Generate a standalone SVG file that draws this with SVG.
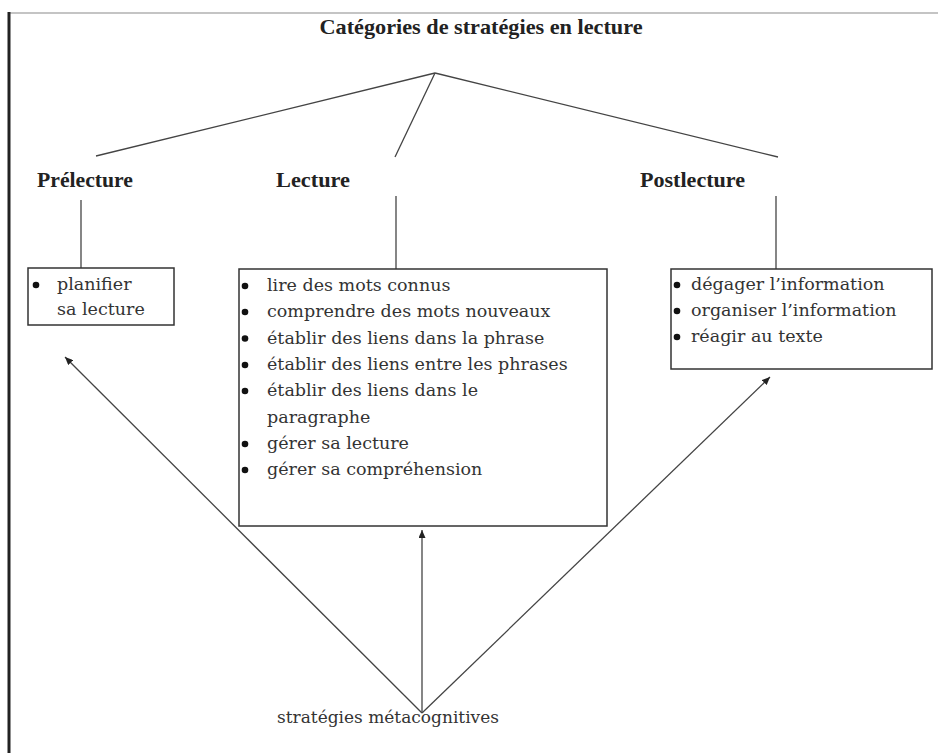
<svg xmlns="http://www.w3.org/2000/svg" width="938" height="753" viewBox="0 0 938 753">
<defs>
<style>
.bg{fill:#ffffff}
.frame-l{stroke:#222;stroke-width:3;fill:none}
.frame-t{stroke:#b0b0b0;stroke-width:1.5;fill:none}
.h{font-family:"Liberation Serif","Times New Roman",serif;font-weight:bold;font-size:21px;fill:#222}
.t{font-family:"DejaVu Serif","Liberation Serif",serif;font-size:17.5px;fill:#333}
.box{fill:#fff;stroke:#333;stroke-width:1.5}
.ln{stroke:#444;stroke-width:1.3;fill:none}
.dot{fill:#111}
</style>
<marker id="ah" viewBox="0 0 8 7" refX="8" refY="3.5" markerWidth="8" markerHeight="7" markerUnits="userSpaceOnUse" orient="auto">
<path d="M0,0 L8,3.5 L0,7 z" fill="#222"/>
</marker>
</defs>
<rect class="bg" x="0" y="0" width="938" height="753"/>
<line class="frame-t" x1="9" y1="13" x2="938" y2="13"/>
<line class="frame-l" x1="9" y1="12" x2="9" y2="753"/>

<g id="connectors">
<line class="ln" x1="435" y1="73" x2="96" y2="156"/>
<line class="ln" x1="435" y1="73" x2="395" y2="157"/>
<line class="ln" x1="435" y1="73" x2="778" y2="157"/>
<line class="ln" x1="81" y1="200" x2="81" y2="268"/>
<line class="ln" x1="396" y1="196" x2="396" y2="269"/>
<line class="ln" x1="776" y1="196" x2="776" y2="269"/>
<line class="ln" x1="422" y1="713" x2="65" y2="357" marker-end="url(#ah)"/>
<line class="ln" x1="422" y1="713" x2="422" y2="530" marker-end="url(#ah)"/>
<line class="ln" x1="422" y1="713" x2="770" y2="377" marker-end="url(#ah)"/>
</g>

<g id="title">
<text class="h" x="481" y="34" font-size="22" text-anchor="middle" textLength="323" lengthAdjust="spacingAndGlyphs">Catégories de stratégies en lecture</text>
</g>

<g id="prelecture">
<text class="h" x="37" y="187" textLength="96" lengthAdjust="spacingAndGlyphs">Prélecture</text>
</g>
<g id="lecture">
<text class="h" x="276" y="187" textLength="74" lengthAdjust="spacingAndGlyphs">Lecture</text>
</g>
<g id="postlecture">
<text class="h" x="640" y="187" textLength="105" lengthAdjust="spacingAndGlyphs">Postlecture</text>
</g>

<g id="prelecture-box">
<rect class="box" x="28" y="268" width="146" height="57"/>
<circle class="dot" cx="36" cy="285" r="3.3"/>
<text class="t" x="57" y="290">planifier</text>
<text class="t" x="57" y="315">sa lecture</text>
</g>

<g id="lecture-box">
<rect class="box" x="239" y="269" width="368" height="257"/>
<circle class="dot" cx="245" cy="286" r="3.3"/>
<text class="t" x="267" y="291">lire des mots connus</text>
<circle class="dot" cx="245" cy="312" r="3.3"/>
<text class="t" x="267" y="317">comprendre des mots nouveaux</text>
<circle class="dot" cx="245" cy="338.5" r="3.3"/>
<text class="t" x="267" y="343.5">établir des liens dans la phrase</text>
<circle class="dot" cx="245" cy="365" r="3.3"/>
<text class="t" x="267" y="370">établir des liens entre les phrases</text>
<circle class="dot" cx="245" cy="391" r="3.3"/>
<text class="t" x="267" y="396">établir des liens dans le</text>
<text class="t" x="267" y="422.5">paragraphe</text>
<circle class="dot" cx="245" cy="444" r="3.3"/>
<text class="t" x="267" y="449">gérer sa lecture</text>
<circle class="dot" cx="245" cy="470" r="3.3"/>
<text class="t" x="267" y="475">gérer sa compréhension</text>
</g>

<g id="postlecture-box">
<rect class="box" x="671" y="269" width="261" height="100"/>
<circle class="dot" cx="677" cy="285" r="3.3"/>
<text class="t" x="691" y="290">dégager l’information</text>
<circle class="dot" cx="677" cy="311" r="3.3"/>
<text class="t" x="691" y="316">organiser l’information</text>
<circle class="dot" cx="677" cy="337" r="3.3"/>
<text class="t" x="691" y="342">réagir au texte</text>
</g>

<g id="metacognitives">
<text class="t" x="277" y="723" textLength="222" lengthAdjust="spacingAndGlyphs">stratégies métacognitives</text>
</g>
</svg>
